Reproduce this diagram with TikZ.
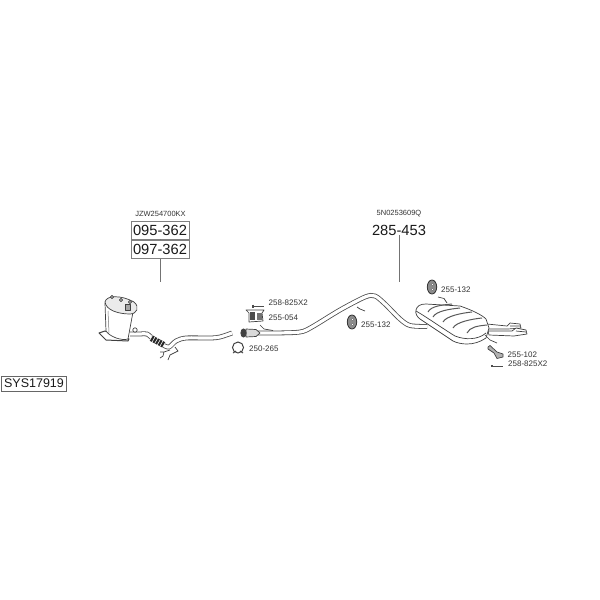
\documentclass[tikz,border=0pt]{standalone}
\usepackage{fontspec}
\setmainfont{Liberation Sans}
\usetikzlibrary{calc}
\tikzset{
    partlabel/.style={anchor=west,inner sep=0pt,text=black!80,font=\fontsize{8}{9}\selectfont},
    reflabel/.style={inner sep=0pt,text=black!80,font=\fontsize{7.5}{9}\selectfont},
    partno/.style={inner sep=0pt,text=black!90,font=\fontsize{14.7}{16}\selectfont},
    partbox/.style={partno,draw=black!50,line width=.8pt,minimum width=58pt,minimum height=18pt},
    leader/.style={draw=black!55,line width=.8pt},
    pipe/.style={draw=black!70,line width=.8pt,double=white,double distance=3.2pt},
    wire/.style={draw=black!75,line width=.7pt},
    outline/.style={draw=black!75,line width=.7pt,fill=white,line join=round},
    rubber/.style={draw=black!80,line width=.8pt,fill=black!45}
}
\begin{document}
\begin{tikzpicture}[x=1pt,y=-1pt]
    \useasboundingbox (0,0) rectangle (600,600);

    % System number
    \node[draw=black!60,line width=.8pt,inner sep=0pt,minimum width=65pt,minimum height=15pt,text=black!90,font=\fontsize{12.5}{14}\selectfont] (sys) at (34,383.5) {SYS17919};

    % Part numbers, front
    \node[reflabel] (refA) at (160.5,214) {JZW254700KX};
    \node[partbox] (boxA) at (160,230) {095-362};
    \node[partbox] (boxB) at (160,249.5) {097-362};
    \coordinate (catTop) at (160,282);
    \draw[leader] (boxA) -- (boxB);
    \draw[leader] (boxB) -- (catTop);

    % Part numbers, rear
    \node[reflabel] (refB) at (399,214) {5N0253609Q};
    \node[partno] (noC) at (399,230) {285-453};
    \coordinate (mufTop) at (399,282);
    \draw[leader] (noC) -- (mufTop);

    % Catalyst
    \draw[outline,line width=1pt] (99,333) -- (105,331) -- (129,339) -- (128,341) -- (106,340) -- cycle;
    \draw[outline] (105,303) -- (106,331) .. controls (110,337) and (122,341) .. (128,339) -- (133,312) -- cycle;
    \draw[outline,fill=black!8] (105,302) .. controls (106,295) and (122,295) .. (134,302) .. controls (140,307) and (137,314) .. (130,314) .. controls (118,314) and (106,310) .. (105,302) -- cycle;
    \foreach \xC/\yC in {112/297,121/300,130/302}
        {
        \draw[outline,fill=black!20] (\xC,\yC) circle (1.7);
        }
    \draw[outline,fill=black!35] (125,304) rectangle (130,310);
    \draw[draw=black!55,line width=.5pt] (108,311) -- (109,333);

    % Front pipe and flexible part
    \draw[pipe] plot[smooth] coordinates {(130,334) (140,334) (147,334) (153,339)};
    \draw[outline] (135,330) circle (2.2);
    \draw[pipe] plot[smooth] coordinates {(163,345) (169,347) (176,341) (186,338) (210,338) (220,337) (232,333)};
    \draw[draw=black!85,line width=6pt] (151,338) -- (164,345);
    \foreach \t in {0,.2,.4,.6,.8,1}
        {
        \draw[white,line width=.6pt] ($(151,338)!\t!(164,345)+(1.5,-2.6)$) -- ($(151,338)!\t!(164,345)+(-1.5,2.6)$);
        }
    \draw[wire] (175,347) -- (178,351) -- (170,355) -- (168,360);
    \draw[wire] (170,350) -- (164,352) -- (160,352) (164,352) -- (163,356) -- (160,358);

    % Middle pipe
    \draw[pipe] plot[smooth,tension=.5] coordinates {(250,333) (275,333) (300,332) (312,327) (340,310) (365,297) (375,296) (385,304) (400,319) (410,325.5) (427,326.5)};
    \draw[outline,fill=black!15] (246,329) -- (256,329.5) -- (260,333) -- (256,336.5) -- (246,337) -- cycle;
    \draw[outline,fill=black!75] (243.5,333) ellipse (2.7 and 4.2);
    \draw[wire] (260,325) -- (264,329) -- (273,330.5);

    % Clamp
    \draw[draw=black!75,line width=1pt] (238,347.5) circle (5.5);
    \draw[draw=black!75,line width=.9pt] (233,353) -- (236,351) (243,353) -- (240,351);

    % Front mount and bolt
    \coordinate (boltA) at (253,306);
    \coordinate (boltAend) at (264,306);
    \draw[draw=black!70,line width=.7pt] (boltA) -- (boltAend);
    \draw[draw=black!70,line width=1.2pt] (253,304.5) -- (253,307.5);
    \draw[outline] (246,310) -- (264,310) -- (262,313) -- (263,321) -- (249,322) -- (249,313) -- cycle;
    \fill[black!70] (250,312) rectangle (255,320);
    \fill[black!55] (257,313) rectangle (262,320);

    % Rubber hangers
    \foreach \xH/\yH in {352/322,432/287}
        {
        \draw[rubber] (\xH,\yH) ellipse (4.7 and 7);
        \draw[fill=white,draw=black!60,line width=.4pt] (\xH+.5,\yH-2.5) circle (1.3);
        \draw[fill=white,draw=black!60,line width=.4pt] (\xH+.5,\yH+2.5) circle (1.3);
        }
    \draw[wire] (357,307) -- (360,309) -- (365,311);
    \draw[wire] (438,297) -- (444,298.5) -- (447,303);

    % Tail pipes
    \draw[outline] (487,324) -- (507,326) -- (510,323) -- (520,324) -- (521,328) -- (508,329) -- (488,329) -- cycle;
    \draw[outline] (488,331) -- (512,331) -- (516,328) -- (526,330) -- (527,334) -- (514,336) -- (489,335) -- cycle;
    \draw[wire] (510,326) -- (520,326) (516,331) -- (526,332);

    % Rear silencer
    \draw[outline] (416,310) .. controls (417,306) and (420,304) .. (426,304) -- (460,306) .. controls (472,310) and (482,315) .. (486,319) -- (489,328) -- (486,338) .. controls (480,342) and (474,344) .. (467,344) .. controls (462,344) and (457,343) .. (453,341) -- (420,319) .. controls (417,317) and (415,313) .. (416,310) -- cycle;
    \draw[wire] (416,311) .. controls (425,316) and (445,330) .. (455,336) .. controls (465,340) and (478,340) .. (486,333);
    \foreach \xR/\yR/\xS/\yS in {428/312/452/304,433/317/460/308,443/322/472/312,453/328/482/318,467/333/487/325}
        {
        \draw[draw=black!65,line width=1pt] (\xR,\yR) .. controls (\xR+3,\yR-6) and (\xS-10,\yS+1) .. (\xS,\yS);
        }
    \draw[wire] (485,335) -- (490,340) -- (497,343);

    % Rear bracket and bolt
    \draw[outline,fill=black!30] (488,347) -- (490,345.5) -- (497,352) -- (503,354) -- (503,357) -- (497,358.5) -- (494,353) -- (488,349) -- cycle;
    \coordinate (boltB) at (492,366);
    \coordinate (boltBend) at (503,366);
    \draw[draw=black!70,line width=.7pt] (boltB) -- (boltBend);
    \draw[draw=black!70,line width=1.2pt] (492,365) -- (492,367);

    % Part labels
    \node[partlabel] (lblA) at (268.5,303) {258-825X2};
    \node[partlabel] (lblB) at (268.5,318) {255-054};
    \node[partlabel] (lblC) at (249,349) {250-265};
    \node[partlabel] (lblD) at (361,324.5) {255-132};
    \node[partlabel] (lblE) at (441,290) {255-132};
    \node[partlabel] (lblF) at (507.5,354.5) {255-102};
    \node[partlabel] (lblG) at (508,363.5) {258-825X2};
\end{tikzpicture}
\end{document}
